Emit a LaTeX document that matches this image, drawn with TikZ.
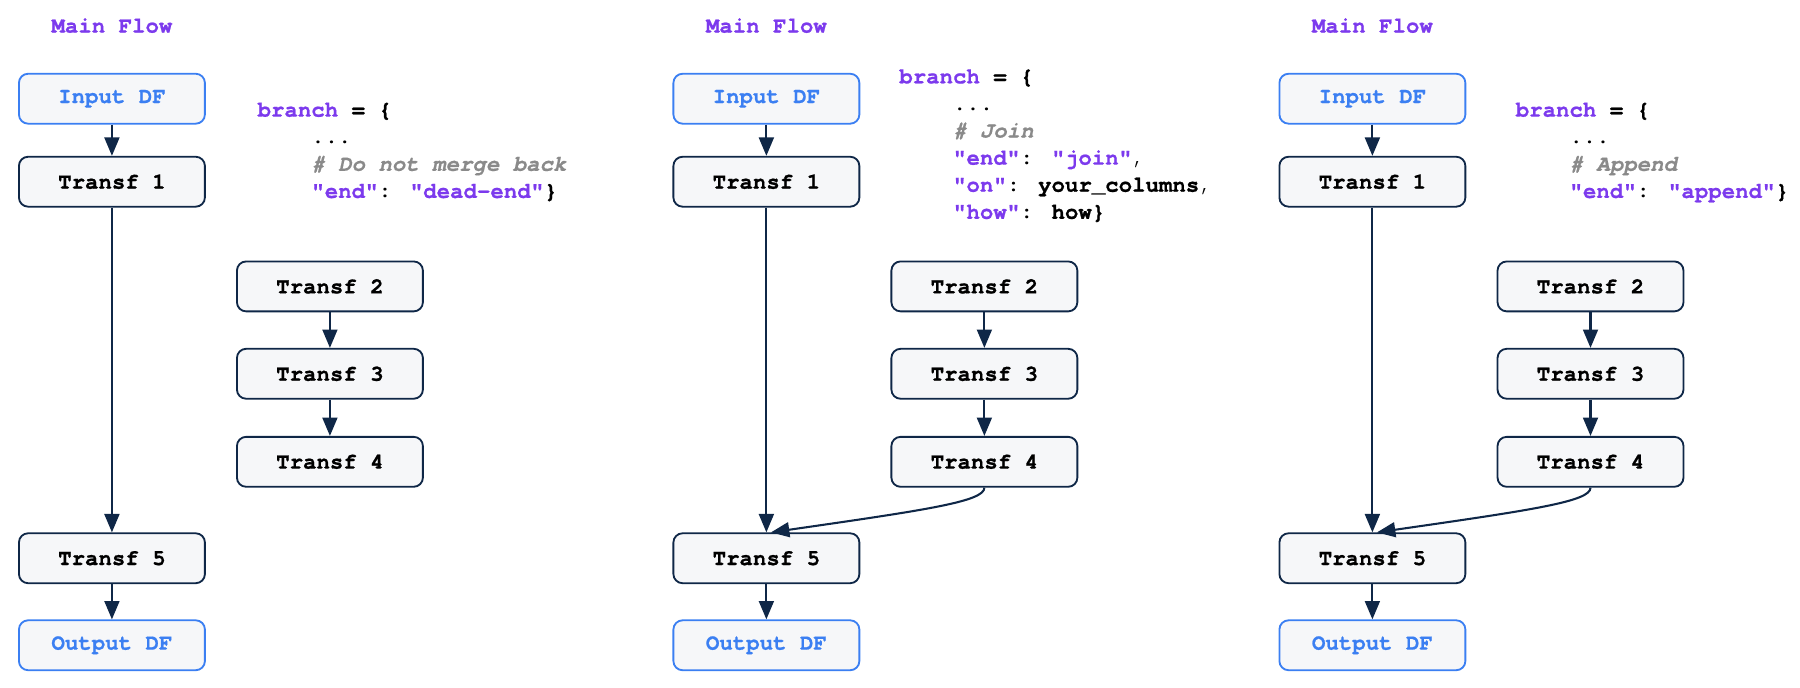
\documentclass[tikz,border=0pt]{standalone}
\usepackage{fontspec}
\newfontfamily\codefont{texgyrecursor}[Extension=.otf, UprightFont=*-regular, BoldFont=*-bold, ItalicFont=*-italic, BoldItalicFont=*-bolditalic, BoldFeatures={FakeBold=0.8}, BoldItalicFeatures={FakeBold=0.5}]
\usetikzlibrary{arrows.meta}
\definecolor{purp}{HTML}{7C3AED}
\definecolor{navy}{HTML}{0F2747}
\definecolor{iblue}{HTML}{3B7FF2}
\definecolor{boxfill}{HTML}{F6F7F9}
\definecolor{cgray}{HTML}{8A8A8A}
\newcommand\kwd[1]{\textcolor{purp}{\bfseries #1}}
\newcommand\bkd[1]{{\bfseries #1}}
\newcommand\cmt[1]{\textcolor{cgray}{\bfseries\itshape #1}}
\tikzset{
 stepbox/.style={draw=navy, fill=boxfill, rounded corners=4pt, line width=0.8pt,
   minimum width=81pt, minimum height=21.75pt, inner sep=0pt,
   font=\codefont\bfseries\fontsize{9.75}{12}\selectfont, text=black},
 iobox/.style={stepbox, draw=iblue, text=iblue},
 titletext/.style={font=\codefont\bfseries\fontsize{9.75}{12}\selectfont, text=purp, inner sep=0pt},
 codeline/.style={font=\codefont\fontsize{9.75}{12}\selectfont, anchor=base west, inner sep=0pt},
 arr/.style={draw=navy, line width=0.9pt, -{Triangle[width=6.5pt,length=8pt]}},
}
\begin{document}
\begin{tikzpicture}[x=0.5pt,y=0.5pt]
\useasboundingbox (0,0) rectangle (1568,599.3);

% ---------- Panel 1 ----------
\node[titletext] (ta) at (97.5,577) {Main Flow};
\node[iobox]   (ain) at (97.5,513.3) {Input DF};
\node[stepbox] (a1)  at (97.5,441) {Transf 1};
\node[stepbox] (a2)  at (287.4,349.8) {Transf 2};
\node[stepbox] (a3)  at (287.4,273.7) {Transf 3};
\node[stepbox] (a4)  at (287.4,197) {Transf 4};
\node[stepbox] (a5)  at (97.5,113) {Transf 5};
\node[iobox]   (aout) at (97.5,37.2) {Output DF};
\draw[arr] (ain) -- (a1);
\draw[arr] (a1) -- (a5);
\draw[arr] (a5) -- (aout);
\draw[arr] (a2) -- (a3);
\draw[arr] (a3) -- (a4);
\node[codeline] (ca1) at (224,497.7) {\kwd{branch}\bkd{ = \{}};
\node[codeline] (ca2) at (270.8,474.1) {...};
\node[codeline] (ca3) at (270.8,450.5) {\cmt{\# Do not merge back}};
\node[codeline] (ca4) at (270.8,426.9) {\kwd{"end"}: \kwd{"dead-end"}\bkd{\}}};

% ---------- Panel 2 ----------
\node[titletext] (tb) at (667.6,577) {Main Flow};
\node[iobox]   (bin) at (667.6,513.3) {Input DF};
\node[stepbox] (b1)  at (667.6,441) {Transf 1};
\node[stepbox] (b2)  at (857.5,349.8) {Transf 2};
\node[stepbox] (b3)  at (857.5,273.7) {Transf 3};
\node[stepbox] (b4)  at (857.5,197) {Transf 4};
\node[stepbox] (b5)  at (667.6,113) {Transf 5};
\node[iobox]   (bout) at (667.6,37.2) {Output DF};
\draw[arr] (bin) -- (b1);
\draw[arr] (b1) -- (b5);
\draw[arr] (b5) -- (bout);
\draw[arr] (b2) -- (b3);
\draw[arr] (b3) -- (b4);
\draw[arr] (b4.south) .. controls ([yshift=-6pt]b4.south) and ([xshift=70pt,yshift=9.8pt]b5.north) .. ([xshift=2pt]b5.north);
\node[codeline] (cb1) at (783,526.7) {\kwd{branch}\bkd{ = \{}};
\node[codeline] (cb2) at (829.8,503.1) {...};
\node[codeline] (cb3) at (829.8,479.5) {\cmt{\# Join}};
\node[codeline] (cb4) at (829.8,455.9) {\kwd{"end"}: \kwd{"join"},};
\node[codeline] (cb5) at (829.8,432.3) {\kwd{"on"}: \bkd{your\_columns},};
\node[codeline] (cb6) at (829.8,408.7) {\kwd{"how"}: \bkd{how\}}};

% ---------- Panel 3 ----------
\node[titletext] (tc) at (1195.5,577) {Main Flow};
\node[iobox]   (cin) at (1195.5,513.3) {Input DF};
\node[stepbox] (c1)  at (1195.5,441) {Transf 1};
\node[stepbox] (c2)  at (1385.5,349.8) {Transf 2};
\node[stepbox] (c3)  at (1385.5,273.7) {Transf 3};
\node[stepbox] (c4)  at (1385.5,197) {Transf 4};
\node[stepbox] (c5)  at (1195.5,113) {Transf 5};
\node[iobox]   (cout) at (1195.5,37.2) {Output DF};
\draw[arr] (cin) -- (c1);
\draw[arr] (c1) -- (c5);
\draw[arr] (c5) -- (cout);
\draw[arr] (c2) -- (c3);
\draw[arr] (c3) -- (c4);
\draw[arr] (c4.south) .. controls ([yshift=-6pt]c4.south) and ([xshift=70pt,yshift=9.8pt]c5.north) .. ([xshift=2pt]c5.north);
\node[codeline] (cc1) at (1320,497.7) {\kwd{branch}\bkd{ = \{}};
\node[codeline] (cc2) at (1366.8,474.1) {...};
\node[codeline] (cc3) at (1366.8,450.5) {\cmt{\# Append}};
\node[codeline] (cc4) at (1366.8,426.9) {\kwd{"end"}: \kwd{"append"}\bkd{\}}};
\end{tikzpicture}
\end{document}
